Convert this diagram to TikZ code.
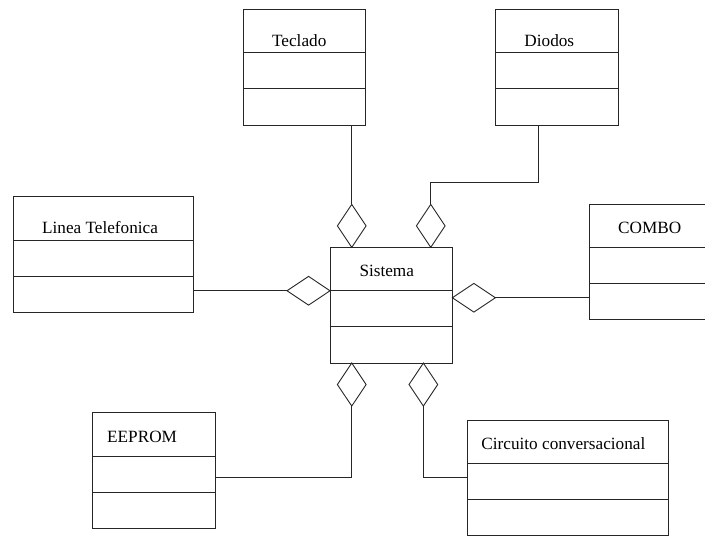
\documentclass[tikz,border=0pt]{standalone}
\usepackage{fontspec}
\setmainfont{Liberation Serif}
\usepackage{tikz}
\usetikzlibrary{calc, shapes.geometric, positioning}

\begin{document}
\begin{tikzpicture}[x=1pt, y=-1pt, line width=0.9pt, draw=black!85,
    clase/.style={draw, rectangle, minimum height=115.7pt, inner sep=0pt, outer sep=0pt},
    rombov/.style={draw, diamond, inner sep=0pt, outer sep=0pt, minimum width=28.7pt, minimum height=43pt},
    romboh/.style={draw, diamond, inner sep=0pt, outer sep=0pt, minimum width=43pt, minimum height=28.7pt},
    titulo/.style={anchor=base west, inner sep=0pt, font=\fontsize{17.2}{20}\selectfont}]
    \useasboundingbox (0,0) rectangle (705,536);
    \clip (0,0) rectangle (705,536);

    % Clases
    \node[clase, minimum width=122.4pt] (teclado) at (304.5,67.2) {};
    \node[clase, minimum width=122.6pt] (diodos) at (557,67.2) {};
    \node[clase, minimum width=180pt] (linea) at (103.3,254.5) {};
    \node[clase, minimum width=122.3pt] (sistema) at (391.2,305.2) {};
    \node[clase, minimum width=122.4pt] (combo) at (650.5,261.9) {};
    \node[clase, minimum width=122.7pt] (eeprom) at (153.7,470.5) {};
    \node[clase, minimum width=201pt] (circuito) at (567.8,477.9) {};

    % Compartimentos
    \foreach \c in {teclado, diodos, linea, sistema, combo, eeprom, circuito} {
        \draw ($(\c.north west)+(0,43.3)$) -- ($(\c.north east)+(0,43.3)$);
        \draw ($(\c.north west)+(0,79.3)$) -- ($(\c.north east)+(0,79.3)$);
    }

    % Nombres
    \node[titulo] (tTeclado) at ($(teclado.north west)+(28.4,36.7)$) {Teclado};
    \node[titulo] (tDiodos) at ($(diodos.north west)+(28.3,36.7)$) {Diodos};
    \node[titulo] (tLinea) at ($(linea.north west)+(28.4,36.6)$) {Linea Telefonica};
    \node[titulo] (tSistema) at ($(sistema.north west)+(29,28.7)$) {Sistema};
    \node[titulo] (tCombo) at ($(combo.north west)+(28.4,29.3)$) {COMBO};
    \node[titulo] (tEeprom) at ($(eeprom.north west)+(14.4,29.6)$) {EEPROM};
    \node[titulo] (tCircuito) at ($(circuito.north west)+(13.7,29)$) {Circuito conversacional};

    % Rombos de agregacion
    \node[rombov, anchor=south] (rTeclado) at ($(sistema.north west)+(21.7,0)$) {};
    \node[rombov, anchor=south] (rDiodos) at ($(sistema.north east)+(-21.6,0)$) {};
    \node[romboh, anchor=east] (rLinea) at ($(sistema.north west)+(0,43.4)$) {};
    \node[romboh, anchor=west] (rCombo) at ($(sistema.north east)+(0,50.4)$) {};
    \node[rombov, anchor=north] (rEeprom) at ($(sistema.south west)+(21.7,0)$) {};
    \node[rombov, anchor=north] (rCircuito) at ($(sistema.south east)+(-29,0)$) {};

    % Conexiones
    \coordinate (codo) at (538.3,182.7);
    \draw (rTeclado.north) -- (rTeclado.north |- teclado.south);
    \draw (rDiodos.north) |- (codo) -- (codo |- diodos.south);
    \draw (rLinea.west) -- (rLinea.west -| linea.east);
    \draw (rCombo.east) -- (rCombo.east -| combo.west);
    \draw (rEeprom.south) |- ($(eeprom.east)+(0,6.8)$);
    \draw (rCircuito.south) |- (circuito.west);
\end{tikzpicture}
\end{document}
